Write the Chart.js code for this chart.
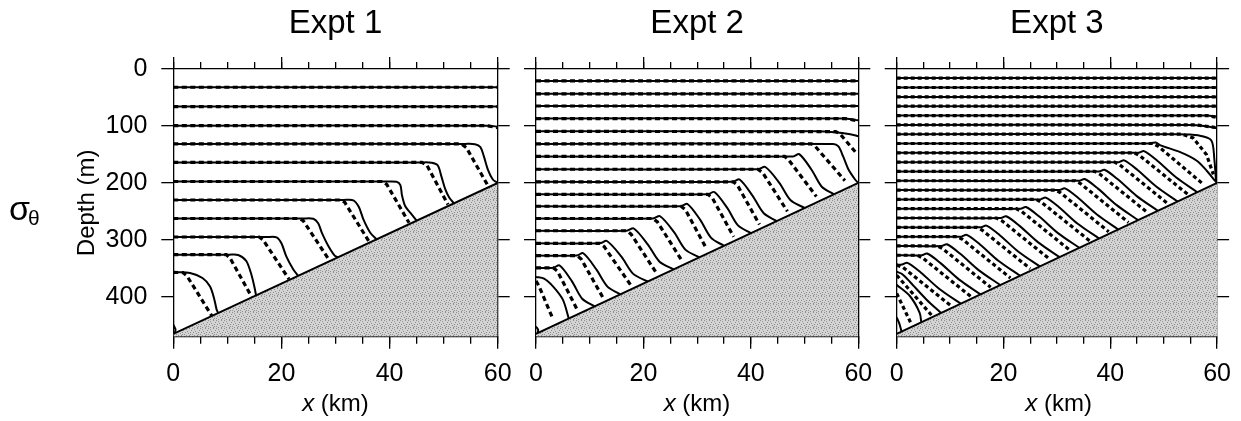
<!DOCTYPE html>
<html lang="en">
<head>
    <meta charset="UTF-8">
    <title>Isopycnals over a sloping bottom - Expt 1, 2, 3</title>
    <!-- Chart.js -->
    <script src="https://cdn.jsdelivr.net/npm/chart.js"></script>
    <style>
        body {
            margin: 0;
            background: #fff;
            font-family: "Liberation Sans", Arial, sans-serif;
            color: #000;
        }
        #wrap {
            position: relative;
            width: 1241px;
            height: 421px;
            overflow: hidden;
        }
        canvas {
            position: absolute;
            left: 0;
            top: 0;
        }
        .xlab {
            position: absolute;
            top: 389px;
            width: 200px;
            text-align: center;
            font-size: 24px;
            line-height: 27px;
        }
        .sig {
            position: absolute;
            left: 9px;
            top: 190px;
            font-size: 34px;
            line-height: 36px;
        }
        .theta {
            position: absolute;
            left: 28px;
            top: 206px;
            font-size: 21px;
            line-height: 24px;
        }
    </style>
</head>
<body>
<div id="wrap">
    <canvas id="c1" width="1241" height="421"></canvas>
    <canvas id="c2" width="1241" height="421"></canvas>
    <canvas id="c3" width="1241" height="421"></canvas>
    <div class="sig">σ</div><div class="theta">θ</div>
    <div class="xlab" style="left:235.5px"><i>x</i> (km)</div>
    <div class="xlab" style="left:597px"><i>x</i> (km)</div>
    <div class="xlab" style="left:958.7px"><i>x</i> (km)</div>
</div>

<script>
    // ---- data: [x (km), depth (m)] ----
    const titles = ["Expt 1", "Expt 2", "Expt 3"];
    const xMajorTicks = [0, 20, 40, 60];
    const xMinorTicks = [0, 5, 10, 15, 20, 25, 30, 35, 40, 45, 50, 55, 60];
    const yTicks = [0, 100, 200, 300, 400];
    const bottomLine = [[0, 465], [60, 200]];

    // Expt 1 - model (solid) and theory (dashed) isopycnals
    const expt1Solid = [
        [[0, 32], [60, 32]],
        [[0, 66], [60, 66]],
        [[0, 99.5], [58.5, 99.5], [60, 101.5]],
        [[0, 131.5], [54, 131.5], [55.8, 132], [56.8, 137], [57.4, 152], [58.2, 177], [59.1, 194], [60, 200]],
        [[0, 164], [46, 164], [47.8, 164.5], [48.9, 169], [49.6, 189], [50.3, 211], [51, 225], [51.9, 236]],
        [[0, 197.5], [39.5, 197.5], [41.3, 198], [42, 204], [42.3, 222], [42.9, 241], [43.9, 253], [45, 266]],
        [[0, 230], [31.5, 230], [33.3, 230.5], [34.3, 242], [35.2, 265], [36.4, 287], [37.6, 299]],
        [[0, 262.5], [24, 262.5], [25.9, 263], [26.8, 271], [27.5, 288], [28.7, 311], [29.9, 328], [30.5, 330.5]],
        [[0, 295], [17.3, 295], [19.1, 295.5], [20, 306], [20.9, 329], [22.2, 352], [23.1, 363]],
        [[0, 326], [10.3, 326], [12, 326.5], [13.5, 337], [14.5, 363], [15.1, 387], [15.3, 397.5]],
        [[0, 357], [3.1, 358], [5.4, 367], [6.8, 382], [7.6, 405], [8, 422], [8.3, 428.5]],
        [[0, 449], [0.4, 457], [0.3, 464]]
    ];
    const expt1Dashed = [
        [[0, 32], [60, 32]],
        [[0, 66], [60, 66]],
        [[0, 99.5], [58, 99.5], [60, 103]],
        [[0, 131.5], [53.3, 131.5], [54.2, 138], [58.2, 205]],
        [[0, 164], [46, 164], [46.9, 169], [50.8, 238]],
        [[0, 197.5], [38.8, 197.5], [39.5, 203], [43.6, 270]],
        [[0, 230], [31, 230], [31.7, 234], [36.2, 303]],
        [[0, 262.5], [23.3, 262.5], [24, 266], [28.8, 335]],
        [[0, 295], [15.9, 295], [16.6, 300], [21.4, 369]],
        [[0, 326], [9.8, 326], [10.5, 332], [14.5, 400]],
        [[0, 357], [1.8, 357.5], [2.5, 363], [7.1, 433]]
    ];

    // Expt 2
    const expt2Solid = [
        [[0, 21], [60, 21]],
        [[0, 43.5], [60, 43.5]],
        [[0, 65], [60, 65]],
        [[0, 87], [57, 87], [60, 90]],
        [[0, 109.5], [52, 109.5], [55.5, 111], [58.5, 114.5], [60, 118]],
        [[0, 131.5], [55.3, 131.5], [56.3, 136], [57.2, 154], [58.2, 177], [59.4, 194], [60, 200]],
        [[0, 153.5], [47.9, 153.5], [49, 149.5], [51.3, 176.8], [53.2, 206.7], [55.5, 220]],
        [[0, 176], [41.4, 176], [42.7, 172], [45.3, 199.8], [47.4, 230.4], [50, 244]],
        [[0, 198], [36.7, 198], [37.9, 194], [40.3, 222.2], [42.4, 253.2], [44.8, 267]],
        [[0, 220], [32, 220], [33.2, 216], [35.6, 243.9], [37.6, 274.6], [40, 288.3]],
        [[0, 241], [27, 241], [28.2, 237], [30.6, 265.3], [32.6, 296.5], [35, 310.4]],
        [[0, 262.5], [21.8, 262.5], [23.1, 258.5], [25.7, 286.4], [27.8, 317.1], [30.4, 330.7]],
        [[0, 284], [16.9, 284], [18.2, 280], [20.8, 307.8], [23, 338.3], [25.6, 351.9]],
        [[0, 306], [11.9, 306], [13.2, 302], [15.9, 329.5], [18.1, 359.7], [20.8, 373.1]],
        [[0, 327.5], [7.6, 327.5], [8.8, 323.5], [11.2, 351.4], [13.3, 382.1], [15.7, 395.7]],
        [[0, 349], [3.2, 349], [4.4, 345], [6.7, 372.8], [8.6, 403.3], [10.9, 416.9]],
        [[0, 365], [1.5, 368], [3.2, 382], [5, 405], [6.1, 438]],
        [[0, 452], [0.4, 458], [0.3, 464]]
    ];
    const expt2Dashed = [
        [[0, 21], [60, 21]],
        [[0, 43.5], [60, 43.5]],
        [[0, 65], [60, 65]],
        [[0, 87], [57.5, 87], [60, 91]],
        [[0, 109.5], [55.8, 110], [56.6, 114], [59.5, 146]],
        [[0, 131.5], [51.3, 131.5], [52, 136], [57.5, 196]],
        [[0, 153.5], [46.3, 153.5], [47, 159], [52.2, 224]],
        [[0, 176], [41.3, 176], [42.2, 182], [46.8, 250]],
        [[0, 198], [36.7, 198], [37.5, 204], [41.6, 273]],
        [[0, 220], [32, 220], [32.8, 226], [36.8, 294.5]],
        [[0, 241], [27, 241], [27.8, 247], [31.8, 316.5]],
        [[0, 262.5], [21.8, 262.5], [22.6, 268.5], [27.2, 337]],
        [[0, 284], [16.9, 284], [17.7, 290], [22.4, 358]],
        [[0, 306], [11.9, 306], [12.7, 312], [17.6, 379]],
        [[0, 327.5], [7.6, 327.5], [8.4, 333.5], [12.5, 402]],
        [[0, 349], [3.2, 349], [4, 355], [7.7, 423]],
        [[0, 372], [0.5, 380], [3.2, 440]]
    ];

    // Expt 3
    const expt3Solid = [
        [[0, 16], [60, 16]],
        [[0, 32.5], [60, 32.5]],
        [[0, 49], [60, 49]],
        [[0, 65.3], [60, 65.3]],
        [[0, 81.7], [58, 81.7], [60, 84]],
        [[0, 98.1], [55, 98.1], [58, 100.5], [60, 104]],
        [[0, 114.5], [52.5, 114.5], [56.5, 116.5], [58.9, 125], [59.5, 160], [59.8, 195], [60, 200]],
        [[0, 130.8], [47, 130.8], [48.5, 129], [49.4, 134], [53.1, 146], [56.2, 161], [58.1, 179], [59.5, 195], [60, 200]],
        [[0, 147.2], [45.3, 147.2], [46.3, 144.2], [48.8, 161], [52.3, 190], [56.3, 216.3]],
        [[0, 163.5], [41.6, 163.5], [42.6, 160.5], [45.1, 177.3], [48.6, 206.4], [52.6, 232.7]],
        [[0, 179.9], [37.9, 179.9], [38.9, 176.9], [41.4, 193.7], [44.9, 222.7], [48.9, 249]],
        [[0, 196.2], [34.2, 196.2], [35.2, 193.2], [37.7, 210], [41.2, 239], [45.2, 265.4]],
        [[0, 212.6], [30.5, 212.6], [31.5, 209.6], [34, 226.4], [37.5, 255.4], [41.5, 281.7]],
        [[0, 228.9], [26.9, 228.9], [27.9, 225.9], [30.4, 242.7], [33.9, 271.7], [37.9, 297.6]],
        [[0, 245.3], [23.2, 245.3], [24.2, 242.3], [26.7, 259.1], [30.2, 288.1], [34.2, 313.9]],
        [[0, 261.6], [19.5, 261.6], [20.5, 258.6], [23, 275.4], [26.5, 304.4], [30.5, 330.3]],
        [[0, 278], [15.8, 278], [16.8, 275], [19.3, 291.8], [22.8, 320.8], [26.8, 346.6]],
        [[0, 294.3], [12.1, 294.3], [13.1, 291.3], [15.6, 308.1], [19.1, 337.1], [23.1, 363]],
        [[0, 310.7], [8.4, 310.7], [9.4, 307.7], [11.9, 324.5], [15.4, 353.5], [19.4, 379.3]],
        [[0, 327], [4.7, 327], [5.7, 324], [8.2, 340.8], [11.7, 369.8], [15.7, 395.7]],
        [[0, 343.4], [1, 343.4], [2, 340.4], [4.5, 357.2], [8, 386.2], [12, 412]],
        [[0, 356], [1, 360], [2.5, 374], [5.6, 405], [8.3, 428.3]],
        [[0, 379], [2.5, 399], [4.3, 428], [4.6, 444.7]],
        [[0, 436], [0.5, 447], [0.9, 461]]
    ];
    const expt3Dashed = [
        [[0, 16], [60, 16]],
        [[0, 32.5], [60, 32.5]],
        [[0, 49], [60, 49]],
        [[0, 65.3], [60, 65.3]],
        [[0, 81.7], [58, 81.7], [60, 85]],
        [[0, 98.1], [56, 98.1], [60, 103]],
        [[0, 114.5], [53.5, 114.5], [55.5, 121], [58, 150], [59.3, 185]],
        [[0, 130.8], [48, 130.8], [49, 136], [57.5, 203]],
        [[0, 147.2], [44.5, 147.2], [45.5, 152], [54.5, 220]],
        [[0, 163.5], [40.8, 163.5], [41.8, 168.5], [50.8, 236.5]],
        [[0, 179.9], [37.1, 179.9], [38.1, 185], [47.1, 253]],
        [[0, 196.2], [33.4, 196.2], [34.4, 201], [43.4, 269.3]],
        [[0, 212.6], [29.7, 212.6], [30.7, 217.5], [39.7, 285.6]],
        [[0, 228.9], [26.1, 228.9], [27.1, 234], [36.1, 301.5]],
        [[0, 245.3], [22.4, 245.3], [23.4, 250], [32.4, 318]],
        [[0, 261.6], [18.7, 261.6], [19.7, 266.5], [28.7, 334.2]],
        [[0, 278], [15, 278], [16, 283], [25, 350.6]],
        [[0, 294.3], [11.3, 294.3], [12.3, 299], [21.3, 367]],
        [[0, 310.7], [7.6, 310.7], [8.6, 315.5], [17.6, 383.3]],
        [[0, 327], [3.9, 327], [4.9, 332], [13.9, 399.6]],
        [[0, 344], [1.2, 348.5], [10.2, 416]],
        [[0, 362], [6.5, 432]],
        [[0, 394], [2.8, 449]]
    ];

    // ---- layout of the three panels (page pixels) ----
    const W = 1241, H = 421;
    const plotTop = 69, plotBottom = 336.7;
    const panels = [
        { id: "c1", title: titles[0], solid: expt1Solid, dashed: expt1Dashed, dash: [5, 3.5], left: 173.3, right: 497.7, labels: true },
        { id: "c2", title: titles[1], solid: expt2Solid, dashed: expt2Dashed, dash: [5, 3.5], left: 536, right: 858.3, labels: false },
        { id: "c3", title: titles[2], solid: expt3Solid, dashed: expt3Dashed, dash: [4, 3], left: 896.7, right: 1220.7, labels: false }
    ];

    Chart.defaults.font.family = '"Liberation Sans", Arial, Helvetica, sans-serif';
    Chart.defaults.color = "#000";

    // stippled grey for the bottom (fixed speckle tile)
    const speckles = [[0, 0], [5, 0], [2, 1], [7, 2], [3, 3], [6, 4], [1, 4], [4, 5], [0, 6], [6, 6], [2, 7], [5, 7]];
    function stipple(ctx) {
        const c = document.createElement("canvas");
        c.width = 8; c.height = 8;
        const g = c.getContext("2d");
        g.fillStyle = "#d4d4d4";
        g.fillRect(0, 0, 8, 8);
        g.fillStyle = "#8e8e8e";
        speckles.forEach(p => g.fillRect(p[0], p[1], 1, 1));
        return ctx.createPattern(c, "repeat");
    }

    function setTicks(values) {
        return scale => { scale.ticks = values.map(v => ({ value: v })); };
    }

    function grid(len) {
        return { drawOnChartArea: false, drawTicks: true, tickLength: len, color: "#000", lineWidth: 1.3 };
    }

    const frame = { display: true, color: "#000", width: 1.3 };

    function drawPanel(p) {
        const ctx = document.getElementById(p.id).getContext("2d");
        const datasets = [];

        // sea floor (drawn last so it trims the isopycnals)
        datasets.push({
            data: bottomLine, showLine: true, pointRadius: 0, tension: 0,
            borderColor: "#000", borderWidth: 2,
            backgroundColor: stipple(ctx), fill: { value: 470 }, order: -1
        });
        p.solid.forEach(c => datasets.push({
            data: c, showLine: true, pointRadius: 0, tension: 0.3,
            borderColor: "#000", borderWidth: 2, borderJoinStyle: "round", fill: false
        }));
        p.dashed.forEach(c => datasets.push({
            data: c, showLine: true, pointRadius: 0, tension: 0,
            borderColor: "#000", borderWidth: 3.2, borderDash: p.dash, fill: false
        }));

        const yW = p.labels ? p.left - 69 : 12;

        new Chart(ctx, {
            type: "scatter",
            data: { datasets: datasets },
            options: {
                responsive: false,
                animation: false,
                devicePixelRatio: 1,
                layout: { padding: { left: p.left - yW, right: W - p.right - 12, top: 0, bottom: 0 } },
                plugins: { legend: { display: false }, tooltip: { enabled: false } },
                scales: {
                    x: {
                        type: "linear", position: "bottom", min: 0, max: 60, weight: 1,
                        afterBuildTicks: setTicks(xMajorTicks),
                        afterFit: s => { s.height = H - plotBottom; },
                        grid: grid(12), border: frame,
                        ticks: { font: { size: 25 }, padding: 10, maxRotation: 0, autoSkip: false }
                    },
                    xMinorBottom: {
                        type: "linear", position: "bottom", min: 0, max: 60, weight: 0,
                        afterBuildTicks: setTicks(xMinorTicks),
                        afterFit: s => { s.height = 0; },
                        grid: grid(7), border: { display: false },
                        ticks: { display: false, autoSkip: false }
                    },
                    xTop: {
                        type: "linear", position: "top", min: 0, max: 60, weight: 1,
                        afterBuildTicks: setTicks(xMajorTicks),
                        afterFit: s => { s.height = plotTop; },
                        grid: grid(12), border: frame,
                        ticks: { display: false, autoSkip: false },
                        title: { display: true, text: p.title, font: { size: 33 }, padding: { top: 4, bottom: 0 } }
                    },
                    xMinorTop: {
                        type: "linear", position: "top", min: 0, max: 60, weight: 0,
                        afterBuildTicks: setTicks(xMinorTicks),
                        afterFit: s => { s.height = 0; },
                        grid: grid(7), border: { display: false },
                        ticks: { display: false, autoSkip: false }
                    },
                    y: {
                        type: "linear", position: "left", min: 0, max: 470, reverse: true,
                        afterBuildTicks: setTicks(yTicks),
                        afterFit: s => { s.width = yW; },
                        grid: grid(12), border: frame,
                        ticks: { display: p.labels, font: { size: 25 }, padding: 14, autoSkip: false },
                        title: { display: p.labels, text: "Depth (m)", font: { size: 24 }, padding: { top: 4, bottom: 4 } }
                    },
                    yRight: {
                        type: "linear", position: "right", min: 0, max: 470, reverse: true,
                        afterBuildTicks: setTicks(yTicks),
                        afterFit: s => { s.width = 12; },
                        grid: grid(12), border: frame,
                        ticks: { display: false, autoSkip: false }
                    }
                }
            }
        });
    }

    panels.forEach(drawPanel);
</script>
</body>
</html>
